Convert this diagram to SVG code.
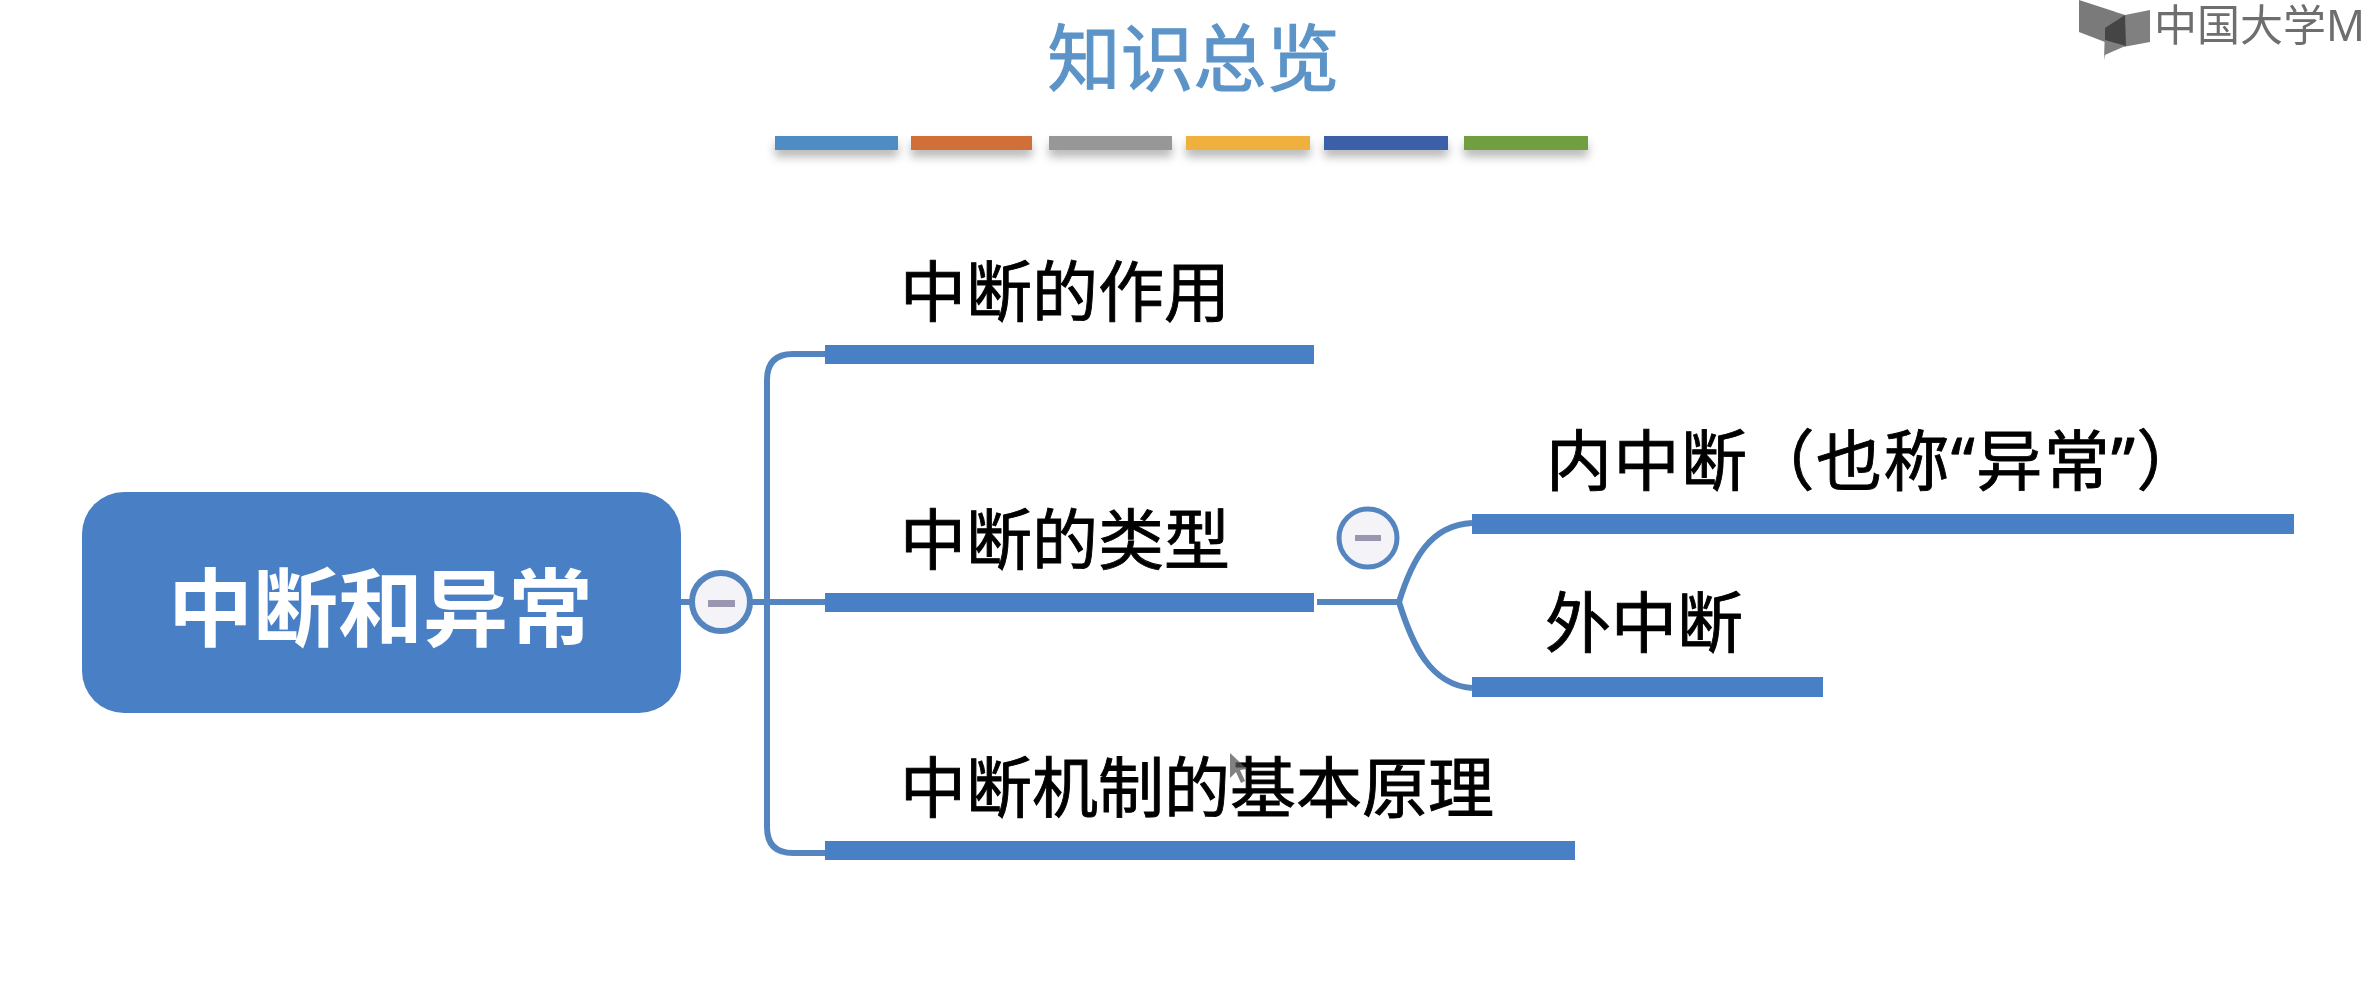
<svg xmlns="http://www.w3.org/2000/svg" width="2366" height="984" viewBox="0 0 2366 984">
<style>
text{font-family:"Noto Sans","Noto Sans CJK SC",sans-serif}
.lbl{font-size:66px;fill:#000;stroke:#000;stroke-width:.9}
.bar{fill:#4a7fc4}
.conn{fill:none;stroke:#5585bf;stroke-width:6}
.tog{fill:#f4f3f8;stroke:#5585bf}
.minus{fill:#9a96b0}
.sw{filter:url(#shadow)}
.logo{font-size:43px;fill:#6e6e6e}
</style>
<defs>
<filter id="shadow" x="-10%" y="-50%" width="120%" height="300%"><feDropShadow dx="0" dy="7" stdDeviation="5" flood-color="#000" flood-opacity=".28"/></filter>
<filter id="soft"><feGaussianBlur stdDeviation="0.7"/></filter>
</defs>
<rect width="2366" height="984" fill="#fff"/>
<g filter="url(#soft)">
<g id="title"><text x="1193.5" y="85" font-size="73" text-anchor="middle" fill="#5c94c8" stroke="#5c94c8" stroke-width="1.2">知识总览</text></g>
<g id="title-bars">
<rect class="sw" x="775" y="136" width="123" height="14" fill="#4f8cc4"/>
<rect class="sw" x="911" y="136" width="121" height="14" fill="#d06f38"/>
<rect class="sw" x="1049" y="136" width="123" height="14" fill="#979797"/>
<rect class="sw" x="1186" y="136" width="124" height="14" fill="#f0b03c"/>
<rect class="sw" x="1324" y="136" width="124" height="14" fill="#3a61a8"/>
<rect class="sw" x="1464" y="136" width="124" height="14" fill="#6f9e40"/>
</g>
<g id="logo">
<polygon points="2079,0 2125,15 2125,45 2105,42 2079,32" fill="#7a7a7a"/>
<polygon points="2105,28 2125,15 2150,10 2150,42 2123,47 2105,55 2104,60" fill="#808080"/>
<polygon points="2105,28 2125,15 2126,46 2105,40" fill="#444"/>
<text class="logo" x="2154" y="41">中国大学M</text>
</g>
<g id="connectors">
<path class="conn" d="M681,602H825"/>
<path class="conn" d="M825,354H793Q767,354 767,380V827Q767,853 793,853H825"/>
<path class="conn" d="M1317,602H1398"/>
<path class="conn" d="M1472,523C1430,525 1412,560 1399,602C1412,644 1430,685 1472,688"/>
</g>
<g id="root">
<rect x="82" y="492" width="599" height="221" rx="42" ry="42" fill="#4a7fc4"/>
<text x="380.5" y="640" font-size="85" font-weight="700" text-anchor="middle" fill="#fff">中断和异常</text>
</g>
<g id="root-toggle">
<circle class="tog" cx="721" cy="602" r="29" stroke-width="6"/>
<rect class="minus" x="708" y="600" width="27" height="7"/>
</g>
<g id="node-role">
<rect class="bar" x="825" y="345" width="489" height="19"/>
<text class="lbl" x="900" y="316">中断的作用</text>
</g>
<g id="node-type">
<rect class="bar" x="825" y="593" width="489" height="19"/>
<text class="lbl" x="900" y="564">中断的类型</text>
</g>
<g id="type-toggle">
<circle class="tog" cx="1368" cy="538" r="29" stroke-width="5"/>
<rect class="minus" x="1355" y="535" width="26" height="6"/>
</g>
<g id="node-internal">
<rect class="bar" x="1472" y="514" width="822" height="20"/>
<text class="lbl" x="1546" y="485" letter-spacing="1.5">内中断（也称“异常”）</text>
</g>
<g id="node-external">
<rect class="bar" x="1472" y="677" width="351" height="20"/>
<text class="lbl" x="1545" y="647">外中断</text>
</g>
<g id="node-mechanism">
<rect class="bar" x="825" y="841" width="750" height="19"/>
<text class="lbl" x="900" y="812">中断机制的基本原理</text>
</g>
<polygon id="cursor" points="1230,753 1230,778 1236,772 1241,783 1245,781 1240,770 1247,769" fill="#555" opacity=".75"/>
</g>
</svg>
